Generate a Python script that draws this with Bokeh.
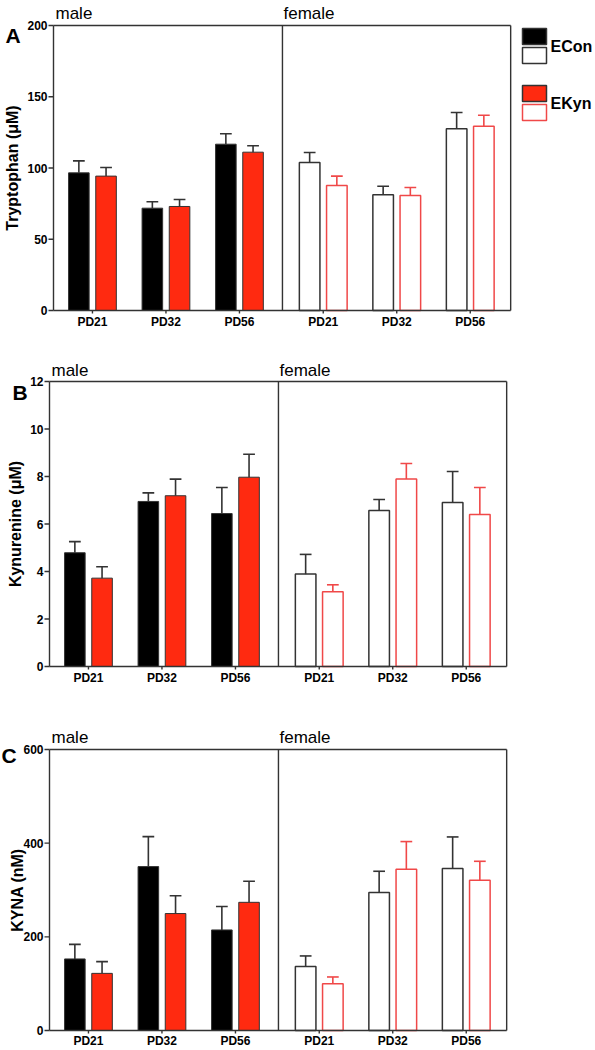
import math
from bokeh.plotting import figure
from bokeh.models import Range1d
from bokeh.core.properties import value
from bokeh.layouts import column
from bokeh.embed import file_html
from bokeh.resources import INLINE

# ---------------- data ----------------
ages = ["PD21", "PD32", "PD56"]
groups = ["ECon", "EKyn"]
sexes = ["male", "female"]

trp_ticks = [0, 50, 100, 150, 200]
trp_male_econ = [96.6, 71.8, 116.7]
trp_male_econ_sem = [8.4, 4.5, 7.3]
trp_male_ekyn = [94.3, 73.0, 111.1]
trp_male_ekyn_sem = [6.1, 4.9, 4.5]
trp_female_econ = [103.9, 81.2, 127.5]
trp_female_econ_sem = [7.0, 6.0, 11.4]
trp_female_ekyn = [87.7, 80.7, 129.3]
trp_female_ekyn_sem = [6.6, 5.6, 7.7]

kyn_ticks = [0, 2, 4, 6, 8, 10, 12]
kyn_male_econ = [4.79, 6.95, 6.44]
kyn_male_econ_sem = [0.47, 0.36, 1.10]
kyn_male_ekyn = [3.72, 7.19, 7.97]
kyn_male_ekyn_sem = [0.48, 0.70, 0.97]
kyn_female_econ = [3.89, 6.57, 6.91]
kyn_female_econ_sem = [0.83, 0.46, 1.30]
kyn_female_ekyn = [3.15, 7.89, 6.40]
kyn_female_ekyn_sem = [0.29, 0.66, 1.14]

kyna_ticks = [0, 200, 400, 600]
kyna_male_econ = [152.8, 350.0, 214.7]
kyna_male_econ_sem = [31.0, 64.0, 50.0]
kyna_male_ekyn = [122.0, 249.7, 273.7]
kyna_male_ekyn_sem = [25.0, 38.0, 45.0]
kyna_female_econ = [136.8, 294.7, 345.9]
kyna_female_econ_sem = [22.4, 45.3, 67.4]
kyna_female_ekyn = [99.6, 344.4, 320.6]
kyna_female_ekyn_sem = [14.7, 59.0, 40.7]

# ---------------- style / layout ----------------
FONT = value("Liberation Sans")
BLACK = "#000000"
RED = "#FF2A10"
RED_LINE = "#F04848"
DARK = "#333333"
PX = 73.5            # pixels per x unit
W = 595
OFF = 0.185
BW = 0.28
CAP = 0.08
male_pos = [0.53 + i for i in range(len(ages))]
female_pos = [3.67 + i for i in range(len(ages))]
DIV = 3.115
RIGHT = 6.22


def bars(p, pos, vals, sems, off, fill, line, lw, err_color):
    xs = [x + off for x in pos]
    p.vbar(x=xs, top=vals, bottom=0, width=BW, fill_color=fill,
           line_color=line, line_width=lw)
    tops = [v + s for v, s in zip(vals, sems)]
    p.segment(x0=xs, y0=vals, x1=xs, y1=tops, line_color=err_color, line_width=1.6)
    p.segment(x0=[x - CAP for x in xs], y0=tops, x1=[x + CAP for x in xs], y1=tops,
              line_color=err_color, line_width=1.6)


def make_panel(letter, ylabel, yticks, data, page_top, page_bot, box_left, box_top, zero_px,
               letter_xy, sex_xy, ylabel_x, xlab_gap=4, legend=False):
    ymax = yticks[-1]
    s = ymax / (zero_px - box_top)         # data units per pixel (y)

    def X(px):
        return (px - box_left) / PX

    def Y(py):
        return (zero_px - py) * s

    p = figure(width=W, height=page_bot - page_top,
               x_range=Range1d(X(0), X(W)), y_range=Range1d(Y(page_bot), Y(page_top)),
               output_backend="svg", toolbar_location=None, tools="",
               min_border=0)
    p.axis.visible = False
    p.outline_line_color = None
    p.xgrid.visible = False
    p.ygrid.visible = False
    p.background_fill_color = "white"
    p.border_fill_color = "white"

    (m_e, m_es, m_k, m_ks, f_e, f_es, f_k, f_ks) = data
    bars(p, male_pos, m_e, m_es, -OFF, BLACK, DARK, 1, DARK)
    bars(p, male_pos, m_k, m_ks, OFF, RED, DARK, 1, DARK)
    bars(p, female_pos, f_e, f_es, -OFF, "white", DARK, 1.5, DARK)
    bars(p, female_pos, f_k, f_ks, OFF, "white", RED_LINE, 1.5, RED_LINE)

    # box lines
    p.segment(x0=[0, 0, 0, RIGHT, DIV], y0=[ymax, 0, 0, 0, 0],
              x1=[RIGHT, RIGHT, 0, RIGHT, DIV], y1=[ymax, 0, ymax, ymax, ymax],
              line_color=DARK, line_width=1.4)

    # y ticks and labels
    p.segment(x0=[0] * len(yticks), y0=yticks, x1=[-5 / PX] * len(yticks), y1=yticks,
              line_color=DARK, line_width=1.4)
    p.text(x=[-6 / PX] * len(yticks), y=yticks, text=[str(t) for t in yticks],
           text_font=FONT, text_font_size="12px", text_font_style="bold",
           text_align="right", text_baseline="middle", text_color=BLACK)

    # x ticks and labels
    xt = male_pos + female_pos
    p.segment(x0=xt, y0=[0] * len(xt), x1=xt, y1=[-3 * s] * len(xt),
              line_color=DARK, line_width=1.4)
    p.text(x=xt, y=[-xlab_gap * s] * len(xt), text=ages + ages,
           text_font=FONT, text_font_size="12px", text_font_style="bold",
           text_align="center", text_baseline="top", text_color=BLACK)

    # sex labels
    p.text(x=[2 / PX, DIV + 1 / PX], y=[Y(sex_xy)] * 2, text=sexes,
           text_font=FONT, text_font_size="17px", text_align="left",
           text_baseline="alphabetic", text_color=BLACK)
    # panel letter
    p.text(x=[X(letter_xy[0])], y=[Y(letter_xy[1])], text=[letter],
           text_font=FONT, text_font_size="21px", text_font_style="bold",
           text_align="left", text_baseline="alphabetic", text_color=BLACK)
    # y label
    p.text(x=[X(ylabel_x)], y=[ymax / 2], text=[ylabel], angle=math.pi / 2,
           text_font=FONT, text_font_size="16px", text_font_style="bold",
           text_align="center", text_baseline="middle", text_color=BLACK)

    if legend:
        p.quad(left=[X(522)] * 4, right=[X(546)] * 4,
               top=[Y(28), Y(47), Y(85), Y(104)],
               bottom=[Y(44), Y(63), Y(101), Y(120)],
               fill_color=[BLACK, "white", RED, "white"],
               line_color=[DARK, DARK, DARK, RED_LINE], line_width=1.5)
        p.text(x=[X(550)] * 2, y=[Y(45.5), Y(102.5)], text=groups,
               text_font=FONT, text_font_size="16px", text_font_style="bold",
               text_align="left", text_baseline="middle", text_color=BLACK)
    return p


pA = make_panel("A", "Tryptophan (\u03bcM)", trp_ticks,
                (trp_male_econ, trp_male_econ_sem, trp_male_ekyn, trp_male_ekyn_sem,
                 trp_female_econ, trp_female_econ_sem, trp_female_ekyn, trp_female_ekyn_sem),
                page_top=0, page_bot=340, box_left=53, box_top=25, zero_px=310,
                letter_xy=(5, 35), sex_xy=13, ylabel_x=12, legend=True)
pB = make_panel("B", "Kynurenine (\u03bcM)", kyn_ticks,
                (kyn_male_econ, kyn_male_econ_sem, kyn_male_ekyn, kyn_male_ekyn_sem,
                 kyn_female_econ, kyn_female_econ_sem, kyn_female_ekyn, kyn_female_ekyn_sem),
                page_top=340, page_bot=700, box_left=49, box_top=381, zero_px=666,
                letter_xy=(12, 392), sex_xy=370, ylabel_x=15)
pC = make_panel("C", "KYNA (nM)", kyna_ticks,
                (kyna_male_econ, kyna_male_econ_sem, kyna_male_ekyn, kyna_male_ekyn_sem,
                 kyna_female_econ, kyna_female_econ_sem, kyna_female_ekyn, kyna_female_ekyn_sem),
                page_top=700, page_bot=1050, box_left=49, box_top=749, zero_px=1030,
                letter_xy=(1, 755), sex_xy=737, ylabel_x=17, xlab_gap=3)

layout = column(pA, pB, pC, spacing=0)
open("out.html", "w").write(file_html(layout, INLINE))
